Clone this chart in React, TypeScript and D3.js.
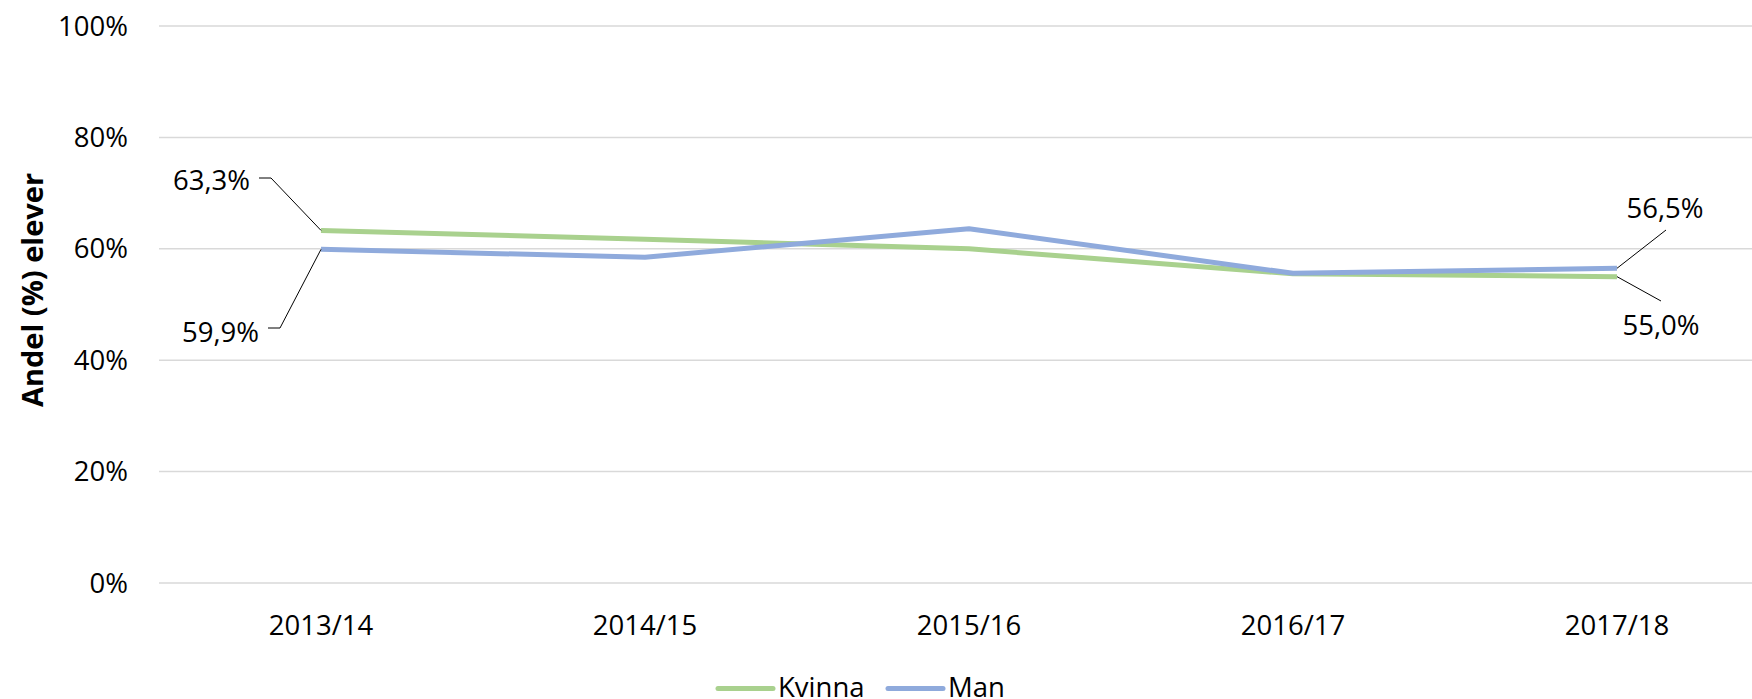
import * as d3 from "d3";
import { useEffect, useRef } from "react";

const years = ["2013/14", "2014/15", "2015/16", "2016/17", "2017/18"];
const kvinna = [63.3, 61.7, 60.0, 55.5, 55.0];
const man = [59.9, 58.5, 63.6, 55.6, 56.5];
const yTicks = [0, 20, 40, 60, 80, 100];

const W = 1752, H = 699;
const FONT = "'Open Sans', 'Noto Sans', sans-serif";

const App = () => {
  const ref = useRef<SVGSVGElement>(null);

  useEffect(() => {
    document.body.style.margin = "0";
    const svg = d3.select(ref.current);
    svg.selectAll("*").remove();

    const x = d3.scaleBand().domain(years).range([159, 159 + 5 * 324]);
    const cx = (d: string) => (x(d) as number) + x.bandwidth() / 2;
    const y = d3.scaleLinear().domain([0, 100]).range([583, 26]);

    // gridlines + tick labels
    yTicks.forEach(t => {
      svg.append("line")
        .attr("x1", 159).attr("x2", W)
        .attr("y1", y(t)).attr("y2", y(t))
        .attr("stroke", "#d9d9d9").attr("stroke-width", 1.5);
      svg.append("text")
        .attr("x", 128).attr("y", y(t))
        .attr("dy", "0.35em")
        .attr("text-anchor", "end")
        .attr("font-family", FONT).attr("font-size", 27.5)
        .attr("fill", "#000")
        .text(t + "%");
    });

    years.forEach(d => {
      svg.append("text")
        .attr("x", cx(d)).attr("y", 625)
        .attr("dy", "0.35em")
        .attr("text-anchor", "middle")
        .attr("font-family", FONT).attr("font-size", 27.5)
        .text(d);
    });

    svg.append("text")
      .attr("transform", "translate(33,290) rotate(-90)")
      .attr("text-anchor", "middle")
      .attr("dy", "0.35em")
      .attr("font-family", FONT).attr("font-size", 29).attr("font-weight", "bold")
      .text("Andel (%) elever");

    const line = d3.line<number>().x((_, i) => cx(years[i])).y(v => y(v));
    const series = [
      { name: "Kvinna", vals: kvinna, color: "#a9d18e" },
      { name: "Man", vals: man, color: "#8faadc" }
    ];
    series.forEach(s => {
      svg.append("path")
        .attr("d", line(s.vals))
        .attr("fill", "none")
        .attr("stroke", s.color)
        .attr("stroke-width", 5)
        .attr("stroke-linejoin", "round");
    });

    const fmt = (v: number) => v.toFixed(1).replace(".", ",") + "%";

    // data labels with leader lines
    const labels = [
      { v: kvinna[0], i: 0, tx: 250, ty: 180, anchor: "end", leader: [[259, 178], [271, 178]] },
      { v: man[0], i: 0, tx: 259, ty: 332, anchor: "end", leader: [[268, 328], [280, 328]] },
      { v: man[4], i: 4, tx: 1665, ty: 208, anchor: "middle", leader: [[1666, 230]] },
      { v: kvinna[4], i: 4, tx: 1661, ty: 325, anchor: "middle", leader: [[1661, 301]] }
    ];
    labels.forEach(l => {
      const px = cx(years[l.i]);
      const py = y(l.v);
      const pts: [number, number][] = [...l.leader.map(p => [p[0], p[1]] as [number, number]), [px, py]];
      svg.append("path")
        .attr("d", d3.line()(pts))
        .attr("fill", "none")
        .attr("stroke", "#000")
        .attr("stroke-width", 1);
      svg.append("text")
        .attr("x", l.tx).attr("y", l.ty)
        .attr("dy", "0.35em")
        .attr("text-anchor", l.anchor)
        .attr("font-family", FONT).attr("font-size", 27.5)
        .text(fmt(l.v));
    });

    // legend
    const leg = [
      { name: "Kvinna", color: "#a9d18e", x0: 718 },
      { name: "Man", color: "#8faadc", x0: 888 }
    ];
    leg.forEach(l => {
      svg.append("line")
        .attr("x1", l.x0).attr("x2", l.x0 + 55)
        .attr("y1", 688.5).attr("y2", 688.5)
        .attr("stroke", l.color).attr("stroke-width", 5)
        .attr("stroke-linecap", "round");
      svg.append("text")
        .attr("x", l.x0 + 60).attr("y", 697)
        .attr("font-family", FONT).attr("font-size", 27.5)
        .text(l.name);
    });
  }, []);

  return (
    <svg ref={ref} width={W} height={H}
      style={{ position: "absolute", left: 0, top: 0, background: "#fff" }} />
  );
};

export default App;
